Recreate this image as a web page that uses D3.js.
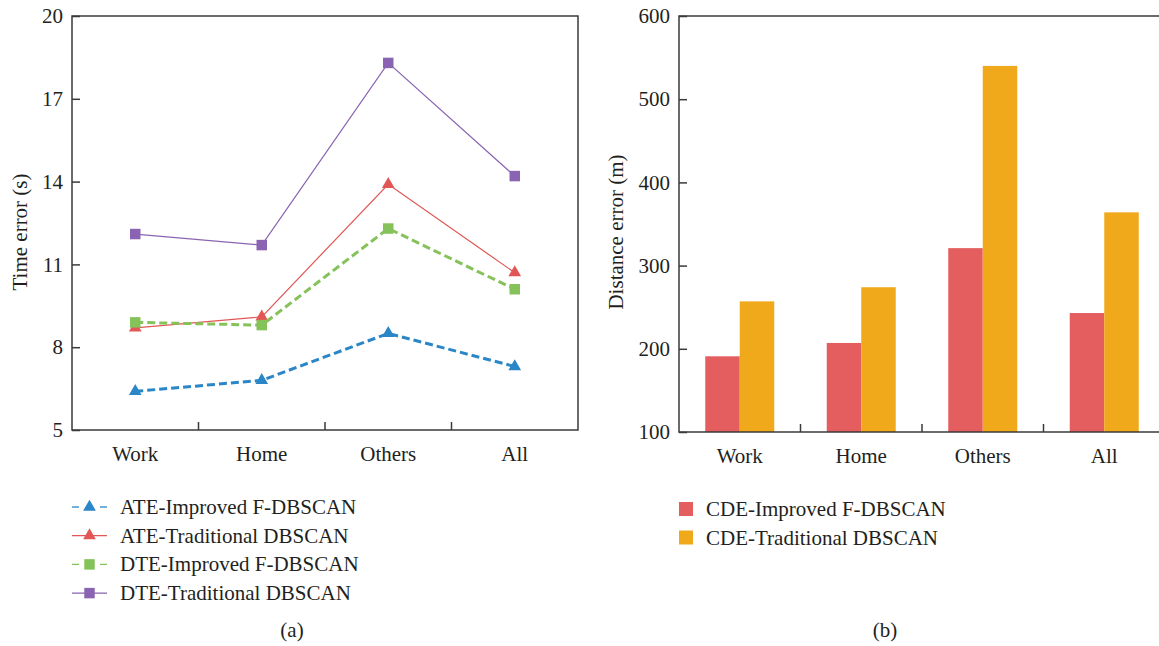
<!DOCTYPE html>
<html>
<head>
<meta charset="utf-8">
<script src="https://cdn.jsdelivr.net/npm/d3@7"></script>
<style>
  body { margin: 0; background: #fff; }
  svg text { font-family: "Liberation Serif", "DejaVu Serif", serif; fill: #231f20; }
</style>
</head>
<body>
<svg id="chart" width="1159" height="646"></svg>
<script>
// categories shared by both panels
const categories = ['Work', 'Home', 'Others', 'All'];

// panel (a): time error (s)
const timeTicks = [5, 8, 11, 14, 17, 20];
const ateImproved = [6.4, 6.8, 8.5, 7.3];
const ateTraditional = [8.7, 9.1, 13.9, 10.7];
const dteImproved = [8.9, 8.8, 12.3, 10.1];
const dteTraditional = [12.1, 11.7, 18.3, 14.2];

// panel (b): distance error (m)
const distTicks = [100, 200, 300, 400, 500, 600];
const cdeImproved = [191, 207, 321, 243];
const cdeTraditional = [257, 274, 540, 364];

const axisColor = '#3a3a3a';
const fs = 21;
const svg = d3.select('#chart');

// ---------- panel (a) ----------
const lineSeries = [
    { name: 'DTE-Traditional DBSCAN', values: dteTraditional, color: '#8a64b2', dash: null, width: 1.2, symbol: d3.symbolSquare, size: 110 },
    { name: 'ATE-Traditional DBSCAN', values: ateTraditional, color: '#e35656', dash: null, width: 1.2, symbol: d3.symbolTriangle, size: 70 },
    { name: 'DTE-Improved F-DBSCAN', values: dteImproved, color: '#85c25a', dash: '8,4', width: 3, symbol: d3.symbolSquare, size: 110 },
    { name: 'ATE-Improved F-DBSCAN', values: ateImproved, color: '#2a86c7', dash: '8,4', width: 3, symbol: d3.symbolTriangle, size: 70 }
];

const ax = { left: 72, right: 578, top: 16, bottom: 430 };
const xa = d3.scaleBand().domain(categories).range([ax.left, ax.right]);
const ya = d3.scaleLinear().domain([5, 20]).range([ax.bottom, ax.top]);

const ga = svg.append('g');

ga.append('rect')
    .attr('x', ax.left).attr('y', ax.top)
    .attr('width', ax.right - ax.left).attr('height', ax.bottom - ax.top)
    .attr('fill', 'none').attr('stroke', axisColor).attr('stroke-width', 1.5);

const yAxisA = ga.append('g')
    .attr('transform', `translate(${ax.left},0)`)
    .call(d3.axisLeft(ya).tickValues(timeTicks).tickSizeInner(-8).tickSizeOuter(0).tickPadding(9));
yAxisA.select('.domain').remove();
yAxisA.selectAll('line').attr('stroke', axisColor).attr('stroke-width', 1.5);
yAxisA.selectAll('text').attr('font-size', fs).attr('font-family', null).attr('fill', null);

const xAxisA = ga.append('g')
    .attr('transform', `translate(0,${ax.bottom})`)
    .call(d3.axisBottom(xa).tickSize(0).tickPadding(16));
xAxisA.select('.domain').remove();
xAxisA.selectAll('text').attr('font-size', fs).attr('font-family', null).attr('fill', null);

// category boundary ticks
ga.selectAll('.btick')
    .data(categories.slice(1))
    .enter().append('line')
    .attr('x1', d => xa(d)).attr('x2', d => xa(d))
    .attr('y1', ax.bottom).attr('y2', ax.bottom - 8)
    .attr('stroke', axisColor).attr('stroke-width', 1.5);

ga.append('text')
    .attr('transform', `translate(27,${(ax.top + ax.bottom) / 2 + 9}) rotate(-90)`)
    .attr('text-anchor', 'middle')
    .attr('font-size', fs)
    .text('Time error (s)');

const line = d3.line()
    .x((d, i) => xa(categories[i]) + xa.bandwidth() / 2)
    .y(d => ya(d));

lineSeries.forEach(s => {
    ga.append('path')
        .attr('d', line(s.values))
        .attr('fill', 'none')
        .attr('stroke', s.color)
        .attr('stroke-width', s.width)
        .attr('stroke-dasharray', s.dash);
    ga.selectAll(null)
        .data(s.values)
        .enter().append('path')
        .attr('transform', (d, i) => `translate(${xa(categories[i]) + xa.bandwidth() / 2},${ya(d)})`)
        .attr('d', d3.symbol(s.symbol, s.size))
        .attr('fill', s.color);
});

// legend (a)
const legendA = [lineSeries[3], lineSeries[1], lineSeries[2], lineSeries[0]];
legendA.forEach((s, i) => {
    const cy = 507 + i * 28.7;
    const g = svg.append('g').attr('transform', `translate(0,${cy})`);
    if (s.dash) {
        g.append('line').attr('x1', 72).attr('x2', 79).attr('y1', 0).attr('y2', 0).attr('stroke', s.color).attr('stroke-width', 1.3);
        g.append('line').attr('x1', 100).attr('x2', 107).attr('y1', 0).attr('y2', 0).attr('stroke', s.color).attr('stroke-width', 1.3);
    } else {
        g.append('line').attr('x1', 72).attr('x2', 107).attr('y1', 0).attr('y2', 0).attr('stroke', s.color).attr('stroke-width', 1.3);
    }
    g.append('path').attr('transform', 'translate(89.5,0)').attr('d', d3.symbol(s.symbol, s.size)).attr('fill', s.color);
    g.append('text').attr('x', 120).attr('y', 7).attr('font-size', fs).text(s.name);
});

svg.append('text').attr('x', 292).attr('y', 637).attr('text-anchor', 'middle').attr('font-size', fs).text('(a)');

// ---------- panel (b) ----------
const barSeries = [
    { name: 'CDE-Improved F-DBSCAN', values: cdeImproved, color: '#e45e60' },
    { name: 'CDE-Traditional DBSCAN', values: cdeTraditional, color: '#f0a91a' }
];

const bx = { left: 679, right: 1165, top: 16, bottom: 432 };
const xb = d3.scaleBand().domain(categories).range([bx.left, bx.right]);
const barW = 34.5;
const xb1 = d3.scaleBand().domain(barSeries.map(s => s.name))
    .range([xb.bandwidth() / 2 - barW, xb.bandwidth() / 2 + barW]);
const yb = d3.scaleLinear().domain([100, 600]).range([bx.bottom, bx.top]);

const gb = svg.append('g');

barSeries.forEach(s => {
    gb.selectAll(null)
        .data(s.values)
        .enter().append('rect')
        .attr('x', (d, i) => xb(categories[i]) + xb1(s.name))
        .attr('y', d => yb(d))
        .attr('width', xb1.bandwidth())
        .attr('height', d => yb(100) - yb(d))
        .attr('fill', s.color);
});

gb.append('rect')
    .attr('x', bx.left).attr('y', bx.top)
    .attr('width', bx.right - bx.left).attr('height', bx.bottom - bx.top)
    .attr('fill', 'none').attr('stroke', axisColor).attr('stroke-width', 1.5);

const yAxisB = gb.append('g')
    .attr('transform', `translate(${bx.left},0)`)
    .call(d3.axisLeft(yb).tickValues(distTicks).tickSizeInner(-8).tickSizeOuter(0).tickPadding(9));
yAxisB.select('.domain').remove();
yAxisB.selectAll('line').attr('stroke', axisColor).attr('stroke-width', 1.5);
yAxisB.selectAll('text').attr('font-size', fs).attr('font-family', null).attr('fill', null);

const xAxisB = gb.append('g')
    .attr('transform', `translate(0,${bx.bottom})`)
    .call(d3.axisBottom(xb).tickSize(0).tickPadding(16));
xAxisB.select('.domain').remove();
xAxisB.selectAll('text').attr('font-size', fs).attr('font-family', null).attr('fill', null);

gb.selectAll('.btick')
    .data(categories.slice(1))
    .enter().append('line')
    .attr('x1', d => xb(d)).attr('x2', d => xb(d))
    .attr('y1', bx.bottom).attr('y2', bx.bottom - 8)
    .attr('stroke', axisColor).attr('stroke-width', 1.5);

gb.append('text')
    .attr('transform', `translate(623,${(bx.top + bx.bottom) / 2 + 8}) rotate(-90)`)
    .attr('text-anchor', 'middle')
    .attr('font-size', fs)
    .text('Distance error (m)');

// legend (b)
barSeries.forEach((s, i) => {
    const cy = 509 + i * 28.5;
    svg.append('rect').attr('x', 679).attr('y', cy - 7).attr('width', 14).attr('height', 14).attr('fill', s.color);
    svg.append('text').attr('x', 706).attr('y', cy + 7).attr('font-size', fs).text(s.name);
});

svg.append('text').attr('x', 885).attr('y', 637).attr('text-anchor', 'middle').attr('font-size', fs).text('(b)');
</script>
</body>
</html>
